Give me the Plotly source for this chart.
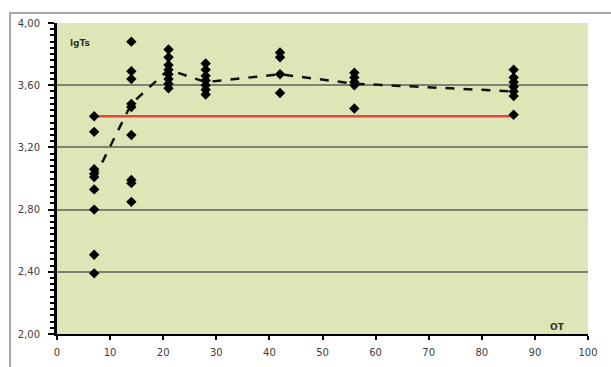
import plotly.graph_objects as go

# Data
days = [7, 14, 21, 28, 42, 56, 86]
points = {
    7: [3.40, 3.30, 3.06, 3.03, 3.01, 2.93, 2.80, 2.51, 2.39],
    14: [3.88, 3.69, 3.64, 3.48, 3.46, 3.28, 2.99, 2.97, 2.85],
    21: [3.83, 3.78, 3.73, 3.70, 3.67, 3.64, 3.61, 3.58],
    28: [3.74, 3.70, 3.66, 3.63, 3.60, 3.57, 3.54],
    42: [3.81, 3.78, 3.67, 3.55],
    56: [3.68, 3.65, 3.62, 3.60, 3.45],
    86: [3.70, 3.65, 3.62, 3.59, 3.56, 3.53, 3.41],
}
trend = [3.00, 3.48, 3.70, 3.62, 3.67, 3.61, 3.56]
threshold_x = [7, 86]
threshold_y = [3.40, 3.40]

scatter_x = [d for d in days for _ in points[d]]
scatter_y = [v for d in days for v in points[d]]

fig = go.Figure()
fig.add_trace(go.Scatter(x=threshold_x, y=threshold_y, mode="lines",
                         line=dict(color="#e8453c", width=2.5), showlegend=False))
fig.add_trace(go.Scatter(x=days, y=trend, mode="lines",
                         line=dict(color="#111111", width=2.5, dash="dash"), showlegend=False))
fig.add_trace(go.Scatter(x=scatter_x, y=scatter_y, mode="markers",
                         marker=dict(symbol="diamond", size=8, color="#000000"), showlegend=False))

font = dict(family="DejaVu Sans", size=10, color="#404040")

fig.update_layout(
    width=611, height=367,
    margin=dict(l=57, r=23, t=23, b=33),
    paper_bgcolor="white",
    plot_bgcolor="#dee5b7",
    separators=",.",
    font=font,
    xaxis=dict(range=[0, 100], dtick=10, tick0=0, showgrid=False, zeroline=False,
               showline=True, linecolor="#000000", linewidth=2,
               ticks="outside", ticklen=4, tickwidth=2, tickcolor="#000000",
               ticklabelstandoff=4, automargin=False,
               tickfont=font, fixedrange=True),
    yaxis=dict(range=[2.0, 4.0], dtick=0.4, tick0=2.0, tickformat=".2f",
               showgrid=True, gridcolor="#7f8070", gridwidth=1.5, zeroline=False,
               showline=True, linecolor="#000000", linewidth=3,
               ticks="outside", ticklen=6, tickwidth=2, tickcolor="#000000",
               minor=dict(dtick=0.04, tick0=2.0, ticks="outside", ticklen=4, tickwidth=2,
                          tickcolor="#000000", showgrid=False),
               ticklabelstandoff=6, automargin=False,
               tickfont=font, fixedrange=True),
    shapes=[
        dict(type="rect", xref="paper", yref="paper",
             x0=-0.0885, x1=1.2, y0=-0.3, y1=1.032,
             line=dict(color="#a8a8a8", width=2), fillcolor="rgba(0,0,0,0)", layer="below"),
    ],
    annotations=[
        dict(text="<b>lgTs</b>", x=2, y=3.87, xref="x", yref="y", showarrow=False,
             xanchor="left", font=dict(family="DejaVu Sans", size=9, color="#333333")),
        dict(text="<b>ОТ</b>", x=96, y=2.0, xref="x", yref="y", showarrow=False,
             xanchor="right", yanchor="bottom", font=dict(family="DejaVu Sans", size=9, color="#333333")),
    ],
)

fig.write_html("out.html")
